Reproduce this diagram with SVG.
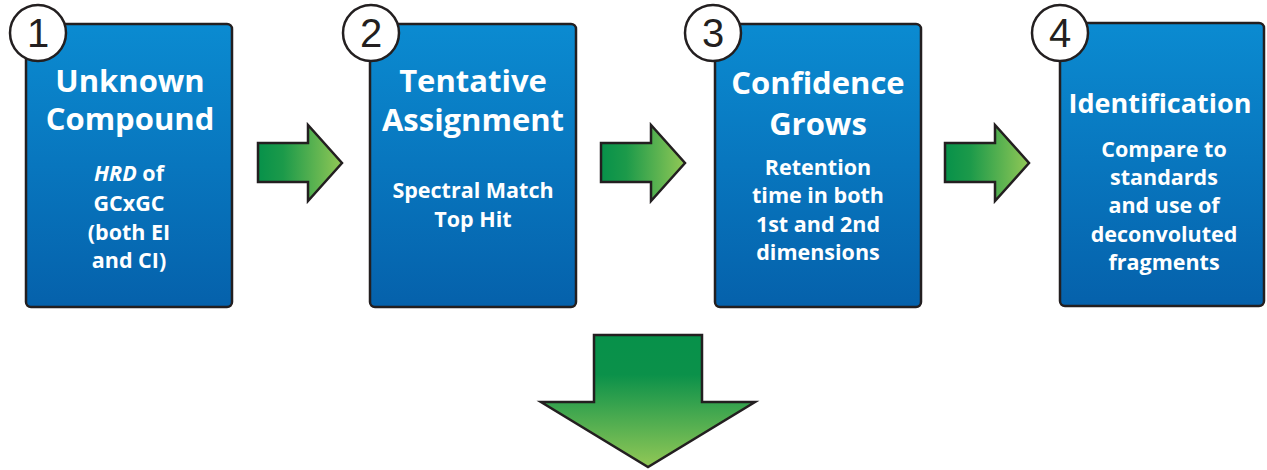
<svg xmlns="http://www.w3.org/2000/svg" width="1267" height="470" viewBox="0 0 1267 470">
<defs>
<linearGradient id="boxg" x1="0" y1="0" x2="0" y2="1">
<stop offset="0" stop-color="#0b8bd1"/>
<stop offset="1" stop-color="#0561ab"/>
</linearGradient>
<linearGradient id="rg" x1="0" y1="0" x2="1" y2="0">
<stop offset="0" stop-color="#07914a"/>
<stop offset="0.3" stop-color="#1c9a4a"/>
<stop offset="1" stop-color="#92c856"/>
</linearGradient>
<linearGradient id="dg" x1="0" y1="0" x2="0" y2="1">
<stop offset="0" stop-color="#07914a"/>
<stop offset="0.3" stop-color="#0b914a"/>
<stop offset="1" stop-color="#92c856"/>
</linearGradient>
</defs>
<style>
.box{fill:url(#boxg);stroke:#231f20;stroke-width:2.5}
.circ{fill:#fff;stroke:#231f20;stroke-width:2.5}
.num{font-family:"Liberation Sans",Arial,sans-serif;font-size:40px;fill:#231f20;text-anchor:middle}
.t{font-family:"Open Sans","DejaVu Sans",sans-serif;font-weight:700;font-size:31px;fill:#fff;text-anchor:middle}
.s{font-family:"Open Sans","DejaVu Sans",sans-serif;font-weight:700;font-size:21.5px;fill:#fff;text-anchor:middle}
.ra{fill:url(#rg);stroke:#231f20;stroke-width:2.5;stroke-linejoin:miter}
.da{fill:url(#dg);stroke:#231f20;stroke-width:2.5;stroke-linejoin:miter}
</style>
<g id="connectors">
<polygon class="ra" points="258,143 308,143 308,125 342,163 308,201 308,182 258,182"/>
<polygon class="ra" points="601,143 651,143 651,125 685,163 651,201 651,182 601,182"/>
<polygon class="ra" points="945,143 995,143 995,125 1029,163 995,201 995,182 945,182"/>
<polygon class="da" points="594,335 702,335 702,402 755,402 648,467 541,402 594,402"/>
</g>
<g id="node1">
<rect class="box" x="26" y="24" width="206" height="283" rx="5"/>
<circle class="circ" cx="38" cy="33" r="28"/>
<text class="num" x="38" y="47">1</text>
<text class="t" x="130" y="92">Unknown</text>
<text class="t" x="130" y="130">Compound</text>
<text class="s" x="129" y="181"><tspan font-style="italic">HRD</tspan> of</text>
<text class="s" x="129" y="211">GCxGC</text>
<text class="s" x="129" y="240">(both EI</text>
<text class="s" x="129" y="268">and CI)</text>
</g>
<g id="node2">
<rect class="box" x="370" y="24" width="206" height="283" rx="5"/>
<circle class="circ" cx="371" cy="33" r="28"/>
<text class="num" x="371" y="47">2</text>
<text class="t" x="473" y="92">Tentative</text>
<text class="t" x="473" y="131">Assignment</text>
<text class="s" x="473" y="198">Spectral Match</text>
<text class="s" x="473" y="227">Top Hit</text>
</g>
<g id="node3">
<rect class="box" x="715" y="24" width="206" height="283" rx="5"/>
<circle class="circ" cx="713" cy="33" r="28"/>
<text class="num" x="713" y="47">3</text>
<text class="t" x="818" y="94">Confidence</text>
<text class="t" x="818" y="135">Grows</text>
<text class="s" x="818" y="175">Retention</text>
<text class="s" x="818" y="203">time in both</text>
<text class="s" x="818" y="232">1st and 2nd</text>
<text class="s" x="818" y="260">dimensions</text>
</g>
<g id="node4">
<rect class="box" x="1060" y="23" width="204" height="283" rx="5"/>
<circle class="circ" cx="1060" cy="33" r="28"/>
<text class="num" x="1060" y="47">4</text>
<text class="t" x="1160" y="113" style="font-size:27px">Identification</text>
<text class="s" x="1164" y="157">Compare to</text>
<text class="s" x="1164" y="185">standards</text>
<text class="s" x="1164" y="213">and use of</text>
<text class="s" x="1164" y="242">deconvoluted</text>
<text class="s" x="1164" y="270">fragments</text>
</g>
</svg>
